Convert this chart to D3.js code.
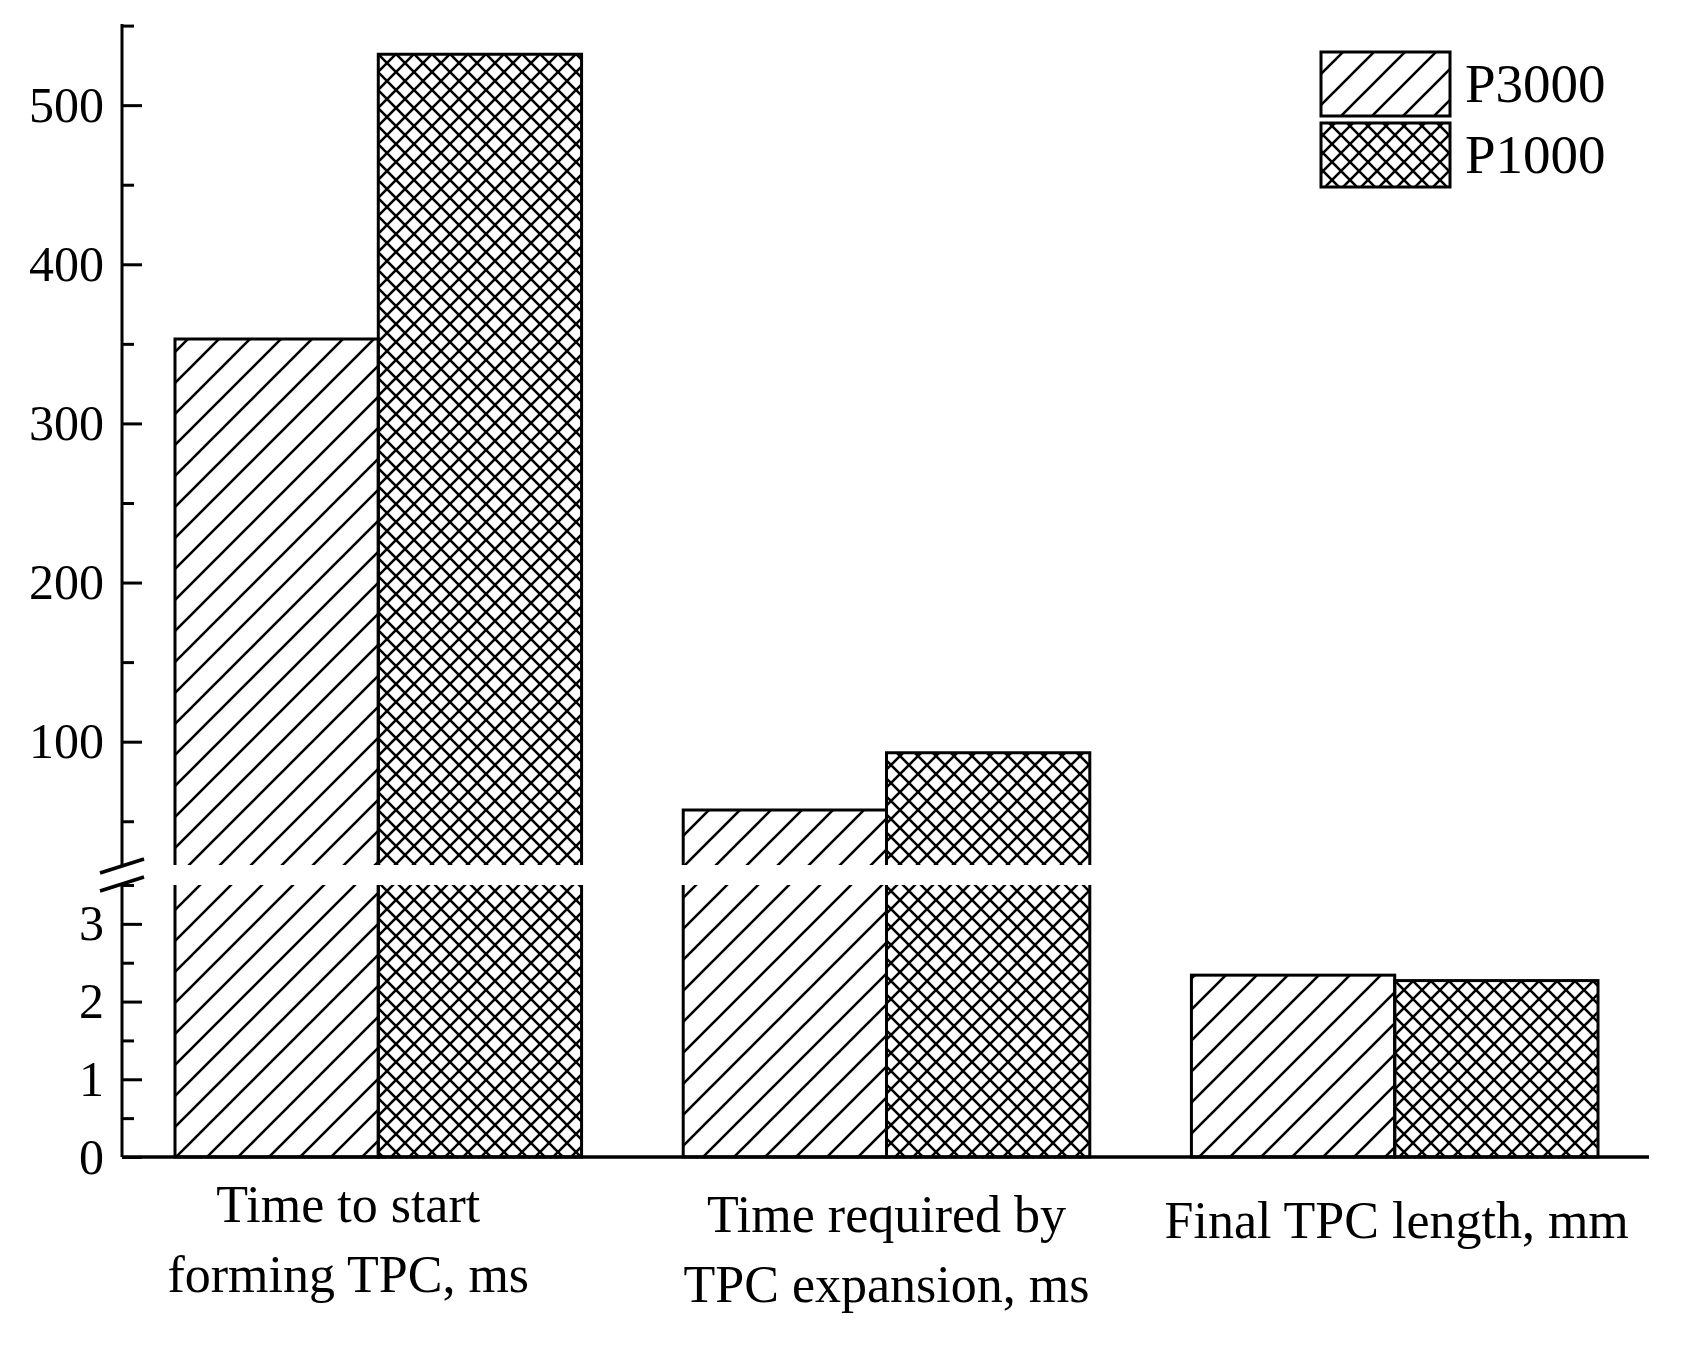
<!DOCTYPE html>
<html><head><meta charset="utf-8">
<script src="https://cdn.jsdelivr.net/npm/d3@7"></script>
<style>body{margin:0;background:#fff}text{font-family:"Liberation Serif","Times New Roman",serif;fill:#000}</style>
</head><body><div id="scene"></div>
<script>
var categories = [["Time to start", "forming TPC, ms"], ["Time required by", "TPC expansion, ms"], ["Final TPC length, mm"]];
var series = ["P3000", "P1000"];
var valuesP3000 = [353, 57, 2.34];
var valuesP1000 = [532, 93, 2.27];
var upperTicks = [100, 200, 300, 400, 500];
var lowerTicks = [0, 1, 2, 3];

var ctx = { w: 1687, h: 1351, axisX: 122, axisEnd: 1649 };

var svg = d3.select("#scene").append("svg").attr("width", ctx.w).attr("height", ctx.h);
var defs = svg.append("defs");
var diag = defs.append("pattern").attr("id", "diag").attr("patternUnits", "userSpaceOnUse")
  .attr("width", 31).attr("height", 31);
diag.append("path").attr("d", "M-8,8 L8,-8 M0,31 L31,0 M23,39 L39,23").attr("stroke", "#000").attr("stroke-width", 2.6);
var cross = defs.append("pattern").attr("id", "cross").attr("patternUnits", "userSpaceOnUse")
  .attr("width", 18).attr("height", 18);
cross.append("path").attr("d", "M0,0 L18,18 M18,0 L0,18 M-2,2 L2,-2 M16,20 L20,16 M-2,16 L2,20 M16,-2 L20,2")
  .attr("stroke", "#000").attr("stroke-width", 2.6);
var fills = ["url(#diag)", "url(#cross)"];

var yLow = d3.scaleLinear().domain([0, 3.5]).range([1157, 885]);
var yUp = d3.scaleLinear().domain([22.5, 551]).range([865, 24]);
var yVal = function(v, lowSeg) { return lowSeg ? yLow(Math.min(v, 3.5)) : yUp(v); };

var x0 = d3.scaleBand().domain(d3.range(categories.length)).range([175, 1598 + 101]).paddingInner(0.2).paddingOuter(0);
x0.range([175, 175 + 3 * 407 + 2 * 101]);
var x1 = d3.scaleBand().domain(series).range([0, x0.bandwidth()]);

var data = [];
categories.forEach(function(c, i) {
  data.push({ g: i, s: "P3000", v: valuesP3000[i] });
  data.push({ g: i, s: "P1000", v: valuesP1000[i] });
});

data.forEach(function(d) {
  var x = x0(d.g) + x1(d.s), w = x1.bandwidth(), f = fills[series.indexOf(d.s)];
  if (d.v <= 3.5) {
    svg.append("rect").attr("x", x).attr("y", yLow(d.v)).attr("width", w).attr("height", yLow(0) - yLow(d.v))
      .attr("fill", f).attr("stroke", "#000").attr("stroke-width", 3);
  } else {
    svg.append("rect").attr("x", x).attr("y", yLow(3.5)).attr("width", w).attr("height", yLow(0) - yLow(3.5))
      .attr("fill", f);
    svg.append("path").attr("d", "M" + x + "," + yLow(3.5) + "V" + yLow(0) + "H" + (x + w) + "V" + yLow(3.5))
      .attr("fill", "none").attr("stroke", "#000").attr("stroke-width", 3);
    svg.append("rect").attr("x", x).attr("y", yUp(d.v)).attr("width", w).attr("height", yUp(22.5) - yUp(d.v))
      .attr("fill", f);
    svg.append("path").attr("d", "M" + x + "," + yUp(22.5) + "V" + yUp(d.v) + "H" + (x + w) + "V" + yUp(22.5))
      .attr("fill", "none").attr("stroke", "#000").attr("stroke-width", 3);
  }
});

// axes
var axUp = d3.axisLeft(yUp).tickValues(d3.range(50, 551, 50)).tickSize(-12).tickFormat(function(d) { return upperTicks.indexOf(d) >= 0 ? d : ""; }).tickPadding(34);
var axLow = d3.axisLeft(yLow).tickValues(d3.range(0, 3.51, 0.5)).tickSize(-12).tickFormat(function(d) { return lowerTicks.indexOf(d) >= 0 ? d : ""; }).tickPadding(34);
[[axUp, 24, 865], [axLow, 885, 1157]].forEach(function(a) {
  var g = svg.append("g").attr("transform", "translate(" + ctx.axisX + ",0)").call(a[0]);
  g.select(".domain").remove();
  g.selectAll("line").attr("stroke-width", 3);
  g.selectAll("line").filter(function(d) { return (upperTicks.concat(lowerTicks)).indexOf(d) >= 0; }).attr("x2", 20);
  g.selectAll("text").attr("font-size", 50).attr("x", -18);
  svg.append("line").attr("x1", ctx.axisX).attr("x2", ctx.axisX).attr("y1", a[1]).attr("y2", a[2]).attr("stroke", "#000").attr("stroke-width", 3);
});
svg.append("line").attr("x1", ctx.axisX).attr("x2", ctx.axisEnd).attr("y1", 1157).attr("y2", 1157).attr("stroke", "#000").attr("stroke-width", 3.5);
// break marks
[866, 884].forEach(function(y) {
  svg.append("line").attr("x1", ctx.axisX - 22).attr("x2", ctx.axisX + 22).attr("y1", y + 7).attr("y2", y - 7).attr("stroke", "#000").attr("stroke-width", 3.5);
});

// category labels
var labelY = [1222, 1232, 1238];
categories.forEach(function(c, i) {
  var t = svg.append("text").attr("text-anchor", "middle").attr("font-size", 52)
    .attr("x", x0(i) + x0.bandwidth() / 2 + (i === 2 ? 2 : -30 * (i === 0 ? 1 : 0)))
    .attr("y", labelY[i]);
  c.forEach(function(line, j) { t.append("tspan").attr("x", t.attr("x")).attr("dy", j ? 70 : 0).text(line); });
});

// legend
series.forEach(function(s, i) {
  var y = 52 + i * 71;
  svg.append("rect").attr("x", 1321).attr("y", y).attr("width", 129).attr("height", 64)
    .attr("fill", fills[i]).attr("stroke", "#000").attr("stroke-width", 3);
  svg.append("text").attr("x", 1465).attr("y", y + 50).attr("font-size", 55).text(s);
});
</script></body></html>
